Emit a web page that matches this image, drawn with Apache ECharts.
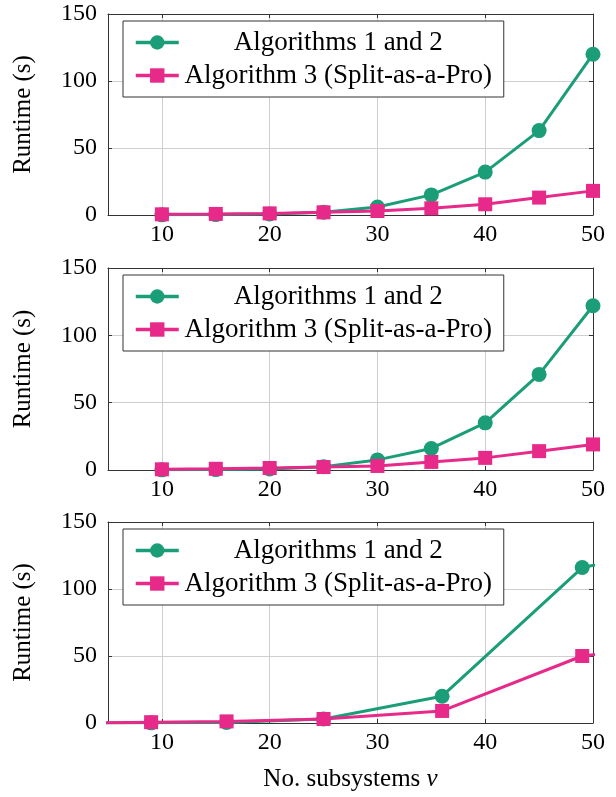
<!DOCTYPE html>
<html>
<head>
<meta charset="utf-8">
<script src="https://cdn.jsdelivr.net/npm/echarts@6/dist/echarts.min.js"></script>
<style>html,body{margin:0;padding:0;background:#fff}#c{width:616px;height:797px}</style>
</head>
<body>
<div id="c"></div>
<script>
// ---- data ----
const seriesNames = ['Algorithms 1 and 2', 'Algorithm 3 (Split-as-a-Pro)'];
const xTicks = [10, 20, 30, 40, 50];
const yTicks = [0, 50, 100, 150];

const xA = [10, 15, 20, 25, 30, 35, 40, 45, 50];
const alg12_A = [0.1, 0.3, 0.7, 2, 6, 15, 32, 63, 120];
const alg3_A  = [0.5, 0.8, 1.2, 2, 3, 5, 8, 13, 18];

const xB = [10, 15, 20, 25, 30, 35, 40, 45, 50];
const alg12_B = [0.1, 0.3, 0.8, 2.5, 7.5, 16, 35, 71, 122];
const alg3_B  = [0.5, 0.9, 1.5, 2.2, 3, 6, 9, 14, 19];

const xC = [4, 9, 16, 25, 36, 49, 64];
const alg12_C = [0.05, 0.1, 0.4, 3, 20, 116, 140];
const alg3_C  = [0.2, 0.6, 1.2, 3, 9, 50, 65];

// ---- layout ----
const FONT = 'Liberation Serif';
const GREEN = '#1b9e77', PINK = '#e7298a', FRAME = '#333';
const grids = [{top: 14, height: 201}, {top: 268, height: 202}, {top: 522, height: 201}];
const legendTops = [21, 275, 529];

const zip = (xs, ys) => xs.map((x, i) => [x, ys[i]]);
const panels = [[xA, alg12_A, alg3_A], [xB, alg12_B, alg3_B], [xC, alg12_C, alg3_C]];

const xAxis = [], yAxis = [], series = [], legend = [];
grids.forEach((g, i) => {
  const tickStyle = {show: true, inside: true, length: 4, lineStyle: {color: FRAME, width: 1}};
  const lineStyle = {show: true, onZero: false, lineStyle: {color: FRAME, width: 1}};
  xAxis.push({
    type: 'value', gridIndex: i, min: 5, max: 50,
    axisLine: lineStyle,
    axisTick: Object.assign({customValues: xTicks}, tickStyle),
    axisLabel: {customValues: xTicks, color: '#000', fontFamily: FONT, fontSize: 24, margin: 8},
    splitLine: {show: true, lineStyle: {color: '#cfcfcf', width: 1}},
    name: i === 2 ? 'No. subsystems {i|ν}' : '',
    nameLocation: 'middle', nameGap: 44,
    nameTextStyle: {color: '#000', fontFamily: FONT, fontSize: 25,
      rich: {i: {fontStyle: 'italic', fontFamily: FONT, fontSize: 25, color: '#000'}}}
  });
  yAxis.push({
    type: 'value', gridIndex: i, min: yTicks[0], max: yTicks[yTicks.length - 1], interval: 50,
    axisLine: lineStyle,
    axisTick: tickStyle,
    axisLabel: {color: '#000', fontFamily: FONT, fontSize: 24, margin: 11},
    splitLine: {show: true, lineStyle: {color: '#cfcfcf', width: 1}},
    name: 'Runtime (s)', nameLocation: 'middle', nameGap: 72,
    nameTextStyle: {color: '#000', fontFamily: FONT, fontSize: 25}
  });
});
grids.forEach((g, i) => {
  const tickStyle = {show: true, inside: true, length: 4, lineStyle: {color: FRAME, width: 1}};
  xAxis.push({
    type: 'value', gridIndex: i, min: 5, max: 50, position: 'top',
    axisLine: {show: true, onZero: false, lineStyle: {color: FRAME, width: 1}},
    axisTick: Object.assign({customValues: xTicks}, tickStyle),
    axisLabel: {show: false, customValues: xTicks}, splitLine: {show: false}
  });
  yAxis.push({
    type: 'value', gridIndex: i, min: 0, max: 150, interval: 50, position: 'right',
    axisLine: {show: true, onZero: false, lineStyle: {color: FRAME, width: 1}},
    axisTick: tickStyle, axisLabel: {show: false}, splitLine: {show: false}
  });
});
panels.forEach((p, i) => {
  series.push({
    type: 'line', name: seriesNames[0], xAxisIndex: i, yAxisIndex: i,
    data: zip(p[0], p[1]), symbol: 'circle', symbolSize: 15,
    lineStyle: {color: GREEN, width: 3}, itemStyle: {color: GREEN}, z: 2
  });
  series.push({
    type: 'line', name: seriesNames[1], xAxisIndex: i, yAxisIndex: i,
    data: zip(p[0], p[2]), symbol: 'rect', symbolSize: 14,
    lineStyle: {color: PINK, width: 3}, itemStyle: {color: PINK}, z: 3
  });
  legend.push({
    orient: 'vertical', left: 123, top: legendTops[i], data: seriesNames,
    backgroundColor: '#fff', borderColor: FRAME, borderWidth: 1,
    padding: [8, 11, 8, 11], itemGap: 6, itemWidth: 43, itemHeight: 18,
    selectedMode: false,
    lineStyle: {width: 3.5},
    formatter: n => '{t|' + n + '}',
    textStyle: {rich: {t: {width: 309, align: 'center', fontSize: 27, fontFamily: FONT, color: '#000', lineHeight: 26}}}
  });
});

const chart = echarts.init(document.getElementById('c'), null, {renderer: 'canvas'});
chart.setOption({
  animation: false,
  backgroundColor: '#fff',
  grid: grids.map(g => ({left: 108, right: 23, top: g.top, height: g.height})),
  xAxis, yAxis, series, legend
});
</script>
</body>
</html>
